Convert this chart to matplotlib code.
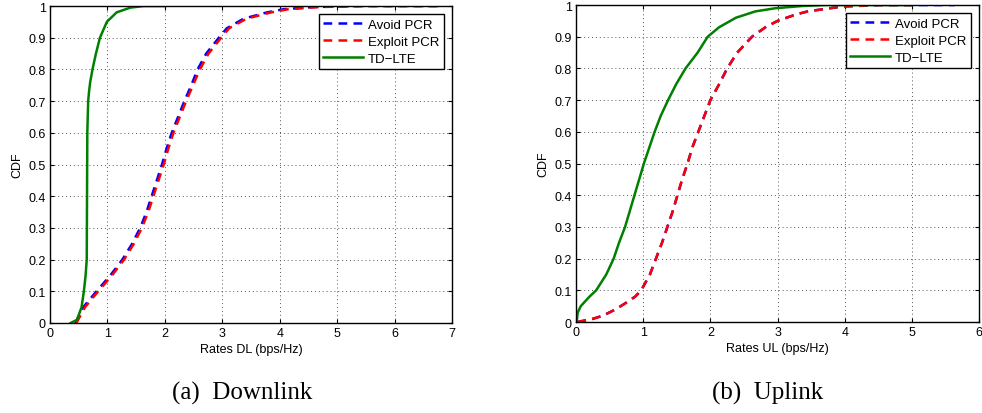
import numpy as np
import matplotlib
matplotlib.use("Agg")
import matplotlib.pyplot as plt

plt.rcParams["font.family"] = ["Liberation Sans", "DejaVu Sans"]

# Downlink CDF curves (rate in bps/Hz, CDF)
dl_y = [0, 0.05, 0.1, 0.15, 0.2, 0.25, 0.3, 0.35, 0.4, 0.45, 0.5, 0.55, 0.6, 0.65, 0.7,
        0.75, 0.8, 0.85, 0.9, 0.93, 0.96, 0.98, 0.99, 0.997, 1.0, 1.0]
dl_avoid_x = [0.44, 0.58, 0.81, 1.05, 1.26, 1.43, 1.57, 1.68, 1.77, 1.86, 1.95, 2.03, 2.12, 2.23, 2.34,
              2.46, 2.57, 2.72, 2.94, 3.08, 3.37, 3.78, 4.07, 4.6, 5.4, 6.8]
dl_exploit_x = [0.46, 0.61, 0.84, 1.08, 1.29, 1.46, 1.60, 1.71, 1.80, 1.89, 1.98, 2.06, 2.15, 2.26, 2.37,
                2.49, 2.61, 2.76, 2.98, 3.12, 3.42, 3.85, 4.15, 4.7, 5.5, 6.8]
dl_tdlte_x = [0.36, 0.47, 0.55, 0.59, 0.62, 0.64, 0.645, 0.65, 0.665, 0.68, 0.70, 0.74, 0.80, 0.87, 0.99, 1.16, 1.40, 1.63, 2.0]
dl_tdlte_y = [0, 0.01, 0.05, 0.1, 0.15, 0.2, 0.4, 0.6, 0.7, 0.73, 0.76, 0.8, 0.85, 0.9, 0.95, 0.98, 0.995, 1.0, 1.0]

# Uplink CDF curves
ul_y = [0, 0.01, 0.02, 0.04, 0.06, 0.08, 0.1, 0.15, 0.2, 0.25, 0.3, 0.35, 0.4, 0.45, 0.5, 0.55, 0.6,
        0.65, 0.7, 0.75, 0.8, 0.85, 0.9, 0.93, 0.95, 0.97, 0.98, 0.995, 1.0, 1.0]
ul_avoid_x = [0.02, 0.25, 0.4, 0.59, 0.74, 0.88, 0.97, 1.10, 1.19, 1.28, 1.36, 1.44, 1.51, 1.58, 1.66, 1.73, 1.82,
              1.91, 2.00, 2.13, 2.25, 2.40, 2.62, 2.82, 3.0, 3.27, 3.45, 3.95, 4.5, 5.64]
ul_exploit_x = [0.02, 0.25, 0.4, 0.59, 0.74, 0.88, 0.97, 1.10, 1.19, 1.28, 1.36, 1.44, 1.51, 1.58, 1.66, 1.73, 1.82,
                1.91, 2.00, 2.13, 2.25, 2.40, 2.62, 2.82, 3.0, 3.27, 3.45, 3.95, 4.5, 5.0]
ul_tdlte_x = [0.0, 0.01, 0.025, 0.07, 0.2, 0.3, 0.45, 0.56, 0.64, 0.73, 0.80, 0.87, 0.94, 1.01, 1.09, 1.17,
              1.26, 1.37, 1.49, 1.63, 1.81, 1.96, 2.13, 2.38, 2.67, 2.97, 3.37, 3.7, 5.0]
ul_tdlte_y = [0, 0.0, 0.03, 0.05, 0.08, 0.1, 0.15, 0.2, 0.25, 0.3, 0.35, 0.4, 0.45, 0.5, 0.55, 0.6,
              0.65, 0.7, 0.75, 0.8, 0.85, 0.9, 0.93, 0.96, 0.98, 0.99, 0.997, 1.0, 1.0]

labels = ["Avoid PCR", "Exploit PCR", "TD\u2212LTE"]

fig = plt.figure(figsize=(9.82, 4.14), dpi=100)
ax1 = fig.add_axes([0.0509, 0.2174, 0.4094, 0.7656])
ax2 = fig.add_axes([0.5866, 0.2198, 0.4104, 0.7656])


def style(ax, xmax, xlabel):
    ax.set_xlim(0, xmax)
    ax.set_ylim(0, 1)
    ax.set_xticks(range(0, xmax + 1))
    ax.set_yticks(np.arange(0, 1.01, 0.1))
    ax.set_yticklabels(["0"] + ["%.1f" % v for v in np.arange(0.1, 0.95, 0.1)] + ["1"])
    ax.grid(True, linestyle=(0, (1, 3)), color="#555555", linewidth=0.7)
    ax.tick_params(direction="in", top=True, right=True, labelsize=9, length=3, pad=3)
    ax.set_xlabel(xlabel, fontsize=9, labelpad=3)
    ax.set_ylabel("CDF", fontsize=9, labelpad=4)
    for s in ax.spines.values():
        s.set_linewidth(1.0)


ax1.plot(dl_avoid_x, dl_y, color="blue", ls=(0, (3.5, 2.5)), lw=1.8, label=labels[0])
ax1.plot(dl_exploit_x, dl_y, color="red", ls=(0, (3.5, 2.5)), lw=1.8, label=labels[1])
ax1.plot(dl_tdlte_x, dl_tdlte_y, color="green", lw=1.8, label=labels[2])
style(ax1, 7, "Rates DL (bps/Hz)")

ax2.plot(ul_avoid_x, ul_y, color="blue", ls=(0, (3.5, 2.5)), lw=1.8, label=labels[0])
ax2.plot(ul_exploit_x, ul_y, color="red", ls=(0, (3.5, 2.5)), lw=1.8, label=labels[1])
ax2.plot(ul_tdlte_x, ul_tdlte_y, color="green", lw=1.8, label=labels[2])
style(ax2, 6, "Rates UL (bps/Hz)")

for ax in (ax1, ax2):
    leg = ax.legend(loc="upper right", fontsize=9.5, fancybox=False, framealpha=1,
                    edgecolor="black", handlelength=3.0, borderaxespad=0.6,
                    labelspacing=0.35, handletextpad=0.4, borderpad=0.35)
    leg.get_frame().set_linewidth(1.0)

fig.text(0.2464, 0.035, "(a)  Downlink", ha="center", fontsize=18, family="Liberation Serif")
fig.text(0.782, 0.035, "(b)  Uplink", ha="center", fontsize=18, family="Liberation Serif")

fig.savefig("out.png", dpi=100)
